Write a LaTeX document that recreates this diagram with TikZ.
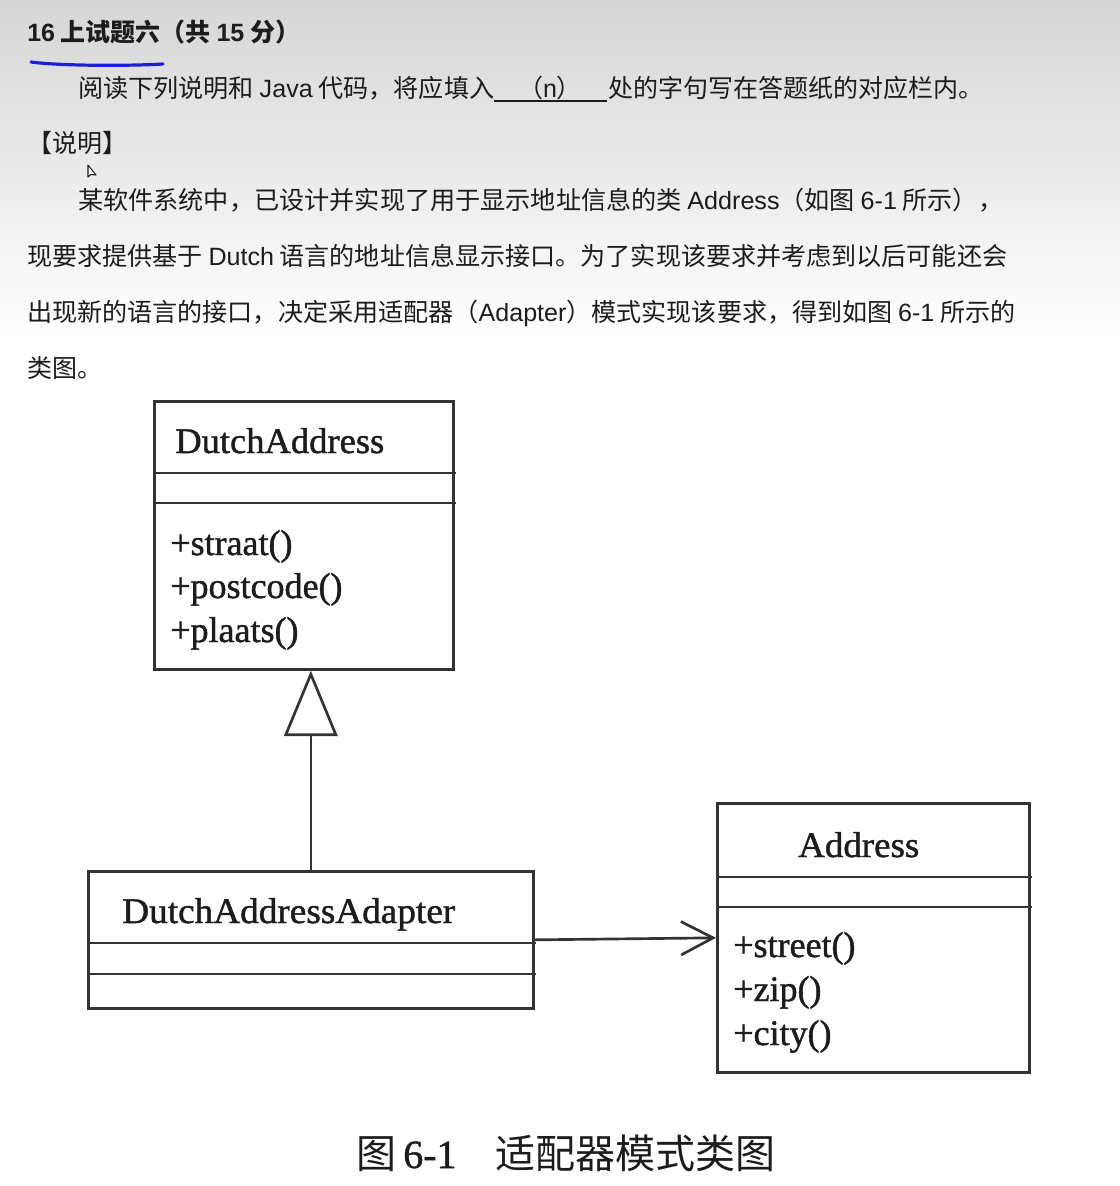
\documentclass[tikz,border=0pt]{standalone}
\usepackage{fontspec}
\usepackage{graphicx}
\setmainfont{Liberation Serif}
\newfontfamily\cjk{Noto Sans CJK SC}
\newfontfamily\lat{Liberation Sans}
\newfontfamily\umlf{Liberation Serif}[FakeBold=1.2]
\usetikzlibrary{arrows.meta}
\definecolor{textc}{HTML}{1C1C1C}
\definecolor{linec}{HTML}{333333}
\definecolor{penblue}{RGB}{30,30,215}
\newbox\fitbx
\newcommand\fitline[2]{\setbox\fitbx=\hbox{#2}\pgfmathsetmacro\fitfx{#1*0.75/\the\wd\fitbx}\scalebox{\fitfx}[1]{\box\fitbx}}
\begin{document}
\begin{tikzpicture}[x=0.75pt,y=-0.75pt,
  txt/.style={font=\cjk\fontsize{18.75}{22}\selectfont, inner sep=0pt, text=textc, anchor=base west},
  clsbox/.style={draw=linec, line width=2pt, inner sep=0pt, anchor=north west},
  divline/.style={draw=linec, line width=2pt},
  umltext/.style={font=\umlf\fontsize{27}{32}\selectfont, inner sep=0pt, text=textc, anchor=base west},
  capcjk/.style={font=\cjk\fontsize{30}{36}\selectfont, inner sep=0pt, text=textc, anchor=base west},
  caplat/.style={font=\umlf\fontsize{30}{36}\selectfont, inner sep=0pt, text=textc, anchor=base west},
  inh/.style={draw=linec, line width=2pt, -{Triangle[length=49pt,width=40pt,fill=white,line join=miter]}},
  assoc/.style={draw=linec, line width=2pt, -{Straight Barb[length=24pt,width=25pt]}}
]
\useasboundingbox (0,0) rectangle (1120,1186);
\fill[white] (0,0) rectangle (1120,1186);
\shade[top color=black!16, bottom color=white] (0,0) rectangle (1120,340);

% header text
\node[txt] (title) at (27,41) {\bfseries {\lat 16} 上试题六（共 {\lat 15} 分）};
\draw[penblue, line width=2.4pt, line cap=round] (31,62) .. controls (60,66) and (130,66) .. (163,64);

\node[txt] (l2a) at (78,97) {\fitline{416}{阅读下列说明和 {\lat Java} 代码，将应填入}};
\coordinate (bl1) at (494,101);
\coordinate (bl2) at (607,101);
\draw[textc, line width=1.4pt] (bl1) -- (bl2);
\node[txt, anchor=base] (blank) at (550,97) {（{\lat n}）};
\node[txt] (l2c) at (608,97) {处的字句写在答题纸的对应栏内。};

\node[txt] (shuoming) at (27,152) {【说明】};
% mouse pointer
\draw[textc, line width=0.8pt, line join=round, fill=white] (88,165) -- (88,177) -- (91,174.5) -- (96,175) -- cycle;

\node[txt] (p1) at (78,209) {\fitline{925}{某软件系统中，已设计并实现了用于显示地址信息的类 {\lat Address}（如图 {\lat 6-1} 所示），}};
\node[txt] (p2) at (27,265) {\fitline{980}{现要求提供基于 {\lat Dutch} 语言的地址信息显示接口。为了实现该要求并考虑到以后可能还会}};
\node[txt] (p3) at (27,321) {\fitline{988}{出现新的语言的接口，决定采用适配器（{\lat Adapter}）模式实现该要求，得到如图 {\lat 6-1} 所示的}};
\node[txt] (p4) at (27,377) {类图。};

% DutchAddress
\node[clsbox, minimum width=224.25pt, minimum height=201pt] (da) at (153,400) {};
\draw[divline] (153,473) -- (456,473);
\draw[divline] (153,503) -- (456,503);
\node[umltext] (daname) at (175,453) {\fitline{209}{DutchAddress}};
\node[umltext] (dam1) at (170,555) {+straat()};
\node[umltext] (dam2) at (170,598) {+postcode()};
\node[umltext] (dam3) at (170,642) {+plaats()};

% DutchAddressAdapter
\node[clsbox, minimum width=333.75pt, minimum height=102.75pt] (ada) at (87,870) {};
\draw[divline] (87,943) -- (536,943);
\draw[divline] (87,974) -- (536,974);
\node[umltext] (adaname) at (122,923) {\fitline{333}{DutchAddressAdapter}};

% Address
\node[clsbox, minimum width=234pt, minimum height=201.75pt] (addr) at (716,802) {};
\draw[divline] (716,877) -- (1032,877);
\draw[divline] (716,907) -- (1032,907);
\node[umltext] (addrname) at (798,857) {\fitline{121}{Address}};
\node[umltext] (addrm1) at (733,957) {+street()};
\node[umltext] (addrm2) at (733,1001) {+zip()};
\node[umltext] (addrm3) at (733,1045) {+city()};

% connectors
\draw[inh] (ada.north) -- (ada.north |- da.south);
\draw[assoc] (ada.east) -- (addr.west);

% caption
\node[capcjk] (cap1) at (356,1168) {图};
\node[caplat] (cap2) at (403,1168) {6-1};
\node[capcjk] (cap3) at (495,1168) {适配器模式类图};
\end{tikzpicture}
\end{document}
